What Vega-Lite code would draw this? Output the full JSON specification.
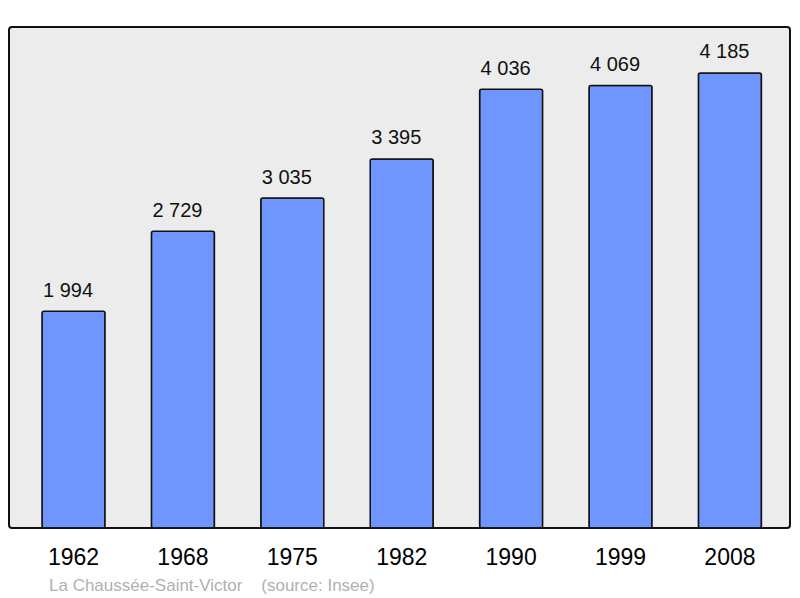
{
  "$schema": "https://vega.github.io/schema/vega-lite/v6.json",
  "autosize": {"type": "none"},
  "width": 781,
  "height": 501,
  "padding": {"left": 9, "top": 27, "right": 10, "bottom": 70},
  "background": "white",
  "config": {
    "locale": {"number": {"decimal": ",", "thousands": " ", "grouping": [3], "currency": ["", " €"]}},
    "view": {"fill": "#ececec", "stroke": "#111111", "strokeWidth": 2, "cornerRadius": 3},
    "font": "Liberation Sans"
  },
  "title": {
    "text": "La Chaussée-Saint-Victor\u00a0\u00a0\u00a0\u00a0(source: Insee)",
    "orient": "bottom",
    "anchor": "start",
    "dx": 40,
    "offset": 9,
    "fontSize": 17,
    "fontWeight": "normal",
    "color": "#b0b0b0",
    "font": "Liberation Sans"
  },
  "data": {
    "values": [
      {"year": "1962", "population": 1994},
      {"year": "1968", "population": 2729},
      {"year": "1975", "population": 3035},
      {"year": "1982", "population": 3395},
      {"year": "1990", "population": 4036},
      {"year": "1999", "population": 4069},
      {"year": "2008", "population": 4185}
    ]
  },
  "encoding": {
    "x": {
      "field": "year",
      "type": "ordinal",
      "scale": {"paddingInner": 0.424, "paddingOuter": 0.2815, "align": 0.536},
      "axis": {
        "title": null,
        "ticks": false,
        "domain": false,
        "labelAngle": 0,
        "labelFontSize": 23,
        "labelColor": "#000000",
        "labelBaseline": "alphabetic",
        "labelPadding": 36,
        "labelFont": "Liberation Sans"
      }
    },
    "y": {
      "field": "population",
      "type": "quantitative",
      "scale": {"domain": [0, 4608], "nice": false},
      "axis": null
    }
  },
  "layer": [
    {
      "mark": {"type": "bar", "fill": "#6f96ff", "stroke": "#111111", "strokeWidth": 1.5, "cornerRadius": 2}
    },
    {
      "mark": {"type": "text", "align": "left", "baseline": "alphabetic", "dx": 1, "dy": -14.5, "fontSize": 20, "color": "#111111", "font": "Liberation Sans"},
      "encoding": {
        "x": {"field": "year", "type": "ordinal", "bandPosition": 0},
        "text": {"field": "population", "type": "quantitative", "format": ",d"}
      }
    }
  ]
}
